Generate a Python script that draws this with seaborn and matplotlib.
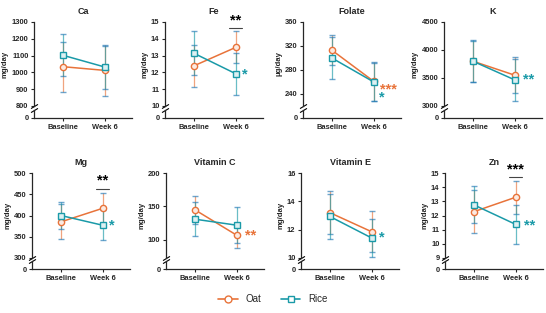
import numpy as np
import pandas as pd
import seaborn as sns
import matplotlib.pyplot as plt
from matplotlib.lines import Line2D
from matplotlib.colors import to_rgb

# values (mean and SD)
nutrients = ['Ca', 'Fe', 'Folate', 'K', 'Mg', 'Vitamin C', 'Vitamin E', 'Zn']
units = ['mg/day', 'mg/day', 'μg/day', 'mg/day', 'mg/day', 'mg/day', 'mg/day', 'mg/day']
times = ['Baseline', 'Week 6']

oat_base = [1034, 12.39, 313, 3800, 385, 145, 13.2, 12.27]
oat_base_sd = [148, 1.24, 25, 365, 41, 21, 1.5, 1.54]
oat_wk6 = [1012, 13.49, 261, 3550, 417, 107, 11.85, 13.29]
oat_wk6_sd = [152, 0.95, 32, 320, 37, 19, 1.45, 1.17]
rice_base = [1102, 13.14, 300, 3800, 400, 131, 12.93, 12.75]
rice_base_sd = [126, 1.3, 35, 370, 32, 25, 1.6, 1.3]
rice_wk6 = [1032, 11.92, 260, 3466, 377, 122, 11.41, 11.37]
rice_wk6_sd = [128, 1.26, 32, 370, 35, 27, 1.35, 1.37]

y_lims = [(800, 1300), (10, 15), (220, 360), (3000, 4500),
          (300, 500), (73, 200), (10, 16), (9, 15)]
y_ticks = [np.arange(800, 1301, 100), np.arange(10, 16, 1), [240, 280, 320, 360],
           [3000, 3500, 4000, 4500], np.arange(300, 501, 50), [100, 150, 200],
           [10, 12, 14, 16], np.arange(9, 16, 1)]

# significance marks: (text, colour key, x, y)
sig_marks = {
    'Fe': [('**', 'k', 1.0, 15.08), ('*', 'Rice', 1.22, 11.9)],
    'Folate': [('***', 'Oat', 1.34, 248), ('*', 'Rice', 1.19, 235)],
    'K': [('**', 'Rice', 1.32, 3466)],
    'Mg': [('**', 'k', 1.0, 482), ('*', 'Rice', 1.22, 376)],
    'Vitamin C': [('**', 'Oat', 1.32, 107)],
    'Vitamin E': [('*', 'Rice', 1.25, 11.42)],
    'Zn': [('***', 'k', 1.0, 15.22), ('**', 'Rice', 1.33, 11.33)],
}
sig_lines = {'Fe': 14.67, 'Mg': 462, 'Zn': 14.72}

pal = {'Oat': '#E8733A', 'Rice': '#1A9AA8'}

sns.set_style('ticks')
plt.rcParams['font.family'] = ['Liberation Sans', 'DejaVu Sans']
plt.rcParams['font.weight'] = 'bold'
plt.rcParams['axes.labelweight'] = 'bold'
plt.rcParams['axes.titleweight'] = 'bold'

W, H = 546, 313
fig = plt.figure(figsize=(W / 100, H / 100), dpi=100)


def box(left, top, w, h):
    return [left / W, 1 - (top + h) / H, w / W, h / H]


lefts = [34, 165, 303, 444, 32, 166, 301, 445]
rows = [(22, 106, 110, 118), (173, 258, 261, 269)]
ax_w = 98
xlim = (-0.69, 1.65)
brk = [(-1, -0.6), (1, 0.6)]

for i, name in enumerate(nutrients):
    top, mbot, stop, sbot = rows[i // 4]
    ax = fig.add_axes(box(lefts[i], top, ax_w, mbot - top))
    sax = fig.add_axes(box(lefts[i], stop, ax_w, sbot - stop))

    df = pd.DataFrame({
        'x': [0, 1, 0, 1],
        'mean': [oat_base[i], oat_wk6[i], rice_base[i], rice_wk6[i]],
        'sd': [oat_base_sd[i], oat_wk6_sd[i], rice_base_sd[i], rice_wk6_sd[i]],
        'group': ['Oat', 'Oat', 'Rice', 'Rice'],
    })
    for g, d in df.groupby('group'):
        ax.errorbar(d['x'], d['mean'], yerr=d['sd'], fmt='none', ecolor=pal[g],
                    elinewidth=0.9, capsize=2, capthick=0.9, alpha=0.65, zorder=1)
    sns.lineplot(data=df, x='x', y='mean', hue='group', style='group',
                 markers={'Oat': 'o', 'Rice': 's'}, dashes=False, palette=pal,
                 ax=ax, legend=False, linewidth=1.1, markersize=4.5, zorder=3)
    for line in ax.lines:
        c = np.array(to_rgb(line.get_color()))
        line.set_markerfacecolor(tuple(c * 0.15 + 0.85))
        line.set_markeredgecolor(line.get_color())
        line.set_markeredgewidth(1.0)

    for txt, ck, xx, yy in sig_marks.get(name, []):
        col = 'k' if ck == 'k' else pal[ck]
        ax.text(xx, yy, txt, color=col, fontsize=10.5, ha='center', va='center',
                fontweight='bold', clip_on=False)
    if name in sig_lines:
        ax.plot([0.84, 1.16], [sig_lines[name]] * 2, color='#444444', lw=0.8,
                clip_on=False)

    ax.set_xlim(xlim)
    ax.set_ylim(y_lims[i])
    ax.set_yticks(y_ticks[i])
    ax.set_xticks([])
    ax.set_xlabel('')
    ax.set_ylabel(units[i], fontsize=5.6, labelpad=2)
    ax.set_title(name, fontsize=6.5, pad=6)
    ax.tick_params(axis='y', labelsize=5.4, length=2.5, width=0.8, pad=1.5)
    for s in ['top', 'right', 'bottom']:
        ax.spines[s].set_visible(False)
    ax.spines['left'].set_linewidth(0.9)

    sax.set_xlim(xlim)
    sax.set_ylim(0, 1)
    sax.set_yticks([0])
    sax.set_xticks([0, 1])
    sax.set_xticklabels(times)
    sax.tick_params(axis='both', labelsize=5.4, length=2.5, width=0.8, pad=1.5)
    for s in ['top', 'right']:
        sax.spines[s].set_visible(False)
    sax.spines['left'].set_linewidth(0.9)
    sax.spines['bottom'].set_linewidth(0.9)

    ax.plot([0], [0], transform=ax.transAxes, marker=brk, markersize=5,
            color='k', mew=0.8, linestyle='none', clip_on=False)
    sax.plot([0], [1], transform=sax.transAxes, marker=brk, markersize=5,
             color='k', mew=0.8, linestyle='none', clip_on=False)

handles = [Line2D([], [], color=pal[g], marker=m, markersize=5, lw=1.2,
                  markerfacecolor='white', markeredgewidth=1.0)
           for g, m in [('Oat', 'o'), ('Rice', 's')]]
fig.legend(handles, ['Oat', 'Rice'], loc='center', bbox_to_anchor=(0.5, 1 - 299 / H),
           ncol=2, frameon=False, handlelength=2, columnspacing=2,
           prop={'weight': 'normal', 'size': 7})

fig.savefig('out.png', dpi=100)
